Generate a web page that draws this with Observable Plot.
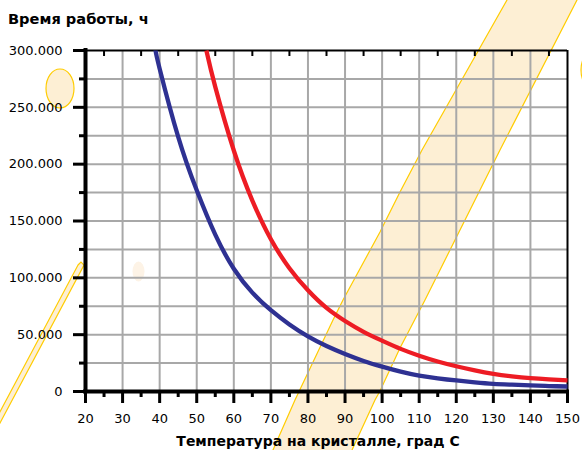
<!DOCTYPE html>
<html>
<head>
<meta charset="utf-8">
<script src="https://cdn.jsdelivr.net/npm/d3@7"></script>
<script src="https://cdn.jsdelivr.net/npm/@observablehq/plot@0.6"></script>
<style>
  body { margin: 0; background: white; }
  #wrap { position: relative; width: 582px; height: 450px; overflow: hidden; font-family: "DejaVu Sans", sans-serif; }
  #deco { position: absolute; left: 0; top: 0; z-index: 0; }
  #title { position: relative; z-index: 1; height: 36px; box-sizing: border-box; padding: 10px 0 0 8px; font-weight: bold; font-size: 14.6px; line-height: 18px; color: #000; }
  #chart { position: relative; z-index: 1; height: 396px; }
  #caption { position: relative; z-index: 1; height: 18px; line-height: 18px; width: 582px; box-sizing: border-box; padding-left: 54px; text-align: center; font-weight: bold; font-size: 14px; color: #000; }
</style>
</head>
<body>
<div id="wrap">
  <svg id="deco" width="582" height="450">
    <polygon points="512,-10 507,0 422,150 400,192 380,232 343,300 333,320 295,400 273,450 269,460 347,460 352,450 375,400 380,391 400,348 425,300 500,150 577,0 582,-10" fill="#fdefd4" stroke="#ffcc00" stroke-width="1.2"/>
    <polygon points="78,265 81,262 84,265 -25,470 -31,470" fill="#fdefd4" stroke="#ffcc00" stroke-width="1.2"/>
    <ellipse cx="60" cy="88.5" rx="14" ry="19.5" fill="#fdefd4" stroke="#ffcc00" stroke-width="1.2"/>
    <ellipse cx="138.5" cy="271.5" rx="6" ry="10" fill="#fdf3e6"/>
    <ellipse cx="597" cy="70" rx="16" ry="22" fill="#fdefd4" stroke="#ffcc00" stroke-width="1.2"/>
  </svg>
  <div id="title">Время работы, ч</div>
  <div id="chart"></div>
  <div id="caption">Температура на кристалле, град С</div>
</div>
<script>
// Blue curve (lower)
const blueTemp = [38.9, 40, 45, 50, 55, 60, 65, 70, 75, 80, 85, 90, 95, 100, 105, 110, 115, 120, 125, 130, 135, 140, 145, 150];
const blueHours = [300000, 284000, 224000, 177000, 138000, 108000, 87000, 71500, 59000, 48500, 40000, 33000, 26900, 21900, 17500, 14000, 11600, 9700, 8100, 6800, 6000, 5300, 4800, 4400];
// Red curve (upper)
const redTemp = [52.6, 55, 60, 65, 70, 75, 80, 85, 90, 95, 100, 105, 110, 115, 120, 125, 130, 135, 140, 145, 150];
const redHours = [300000, 268000, 212000, 168000, 134000, 108500, 89000, 73500, 62000, 52500, 44700, 37500, 31500, 26400, 22200, 18600, 15600, 13400, 11800, 10700, 9800];

const xMajorTicks = [20, 30, 40, 50, 60, 70, 80, 90, 100, 110, 120, 130, 140, 150];
const xMinorTicks = [25, 35, 45, 55, 65, 75, 85, 95, 105, 115, 125, 135, 145];
const xGrid = [30, 40, 50, 60, 70, 80, 90, 100, 110, 120, 130, 140];
const yMajorTicks = [0, 50000, 100000, 150000, 200000, 250000, 300000];
const yMinorTicks = [25000, 75000, 125000, 175000, 225000, 275000];
const yGrid = [25000, 50000, 75000, 100000, 125000, 150000, 175000, 200000, 225000, 250000, 275000];

const blueData = blueTemp.map((t, i) => ({t, h: blueHours[i]}));
const redData = redTemp.map((t, i) => ({t, h: redHours[i]}));
const fmt = v => d3.format(",")(v).replace(/,/g, ".");

const chart = Plot.plot({
  width: 582,
  height: 396,
  marginLeft: 85,
  marginRight: 15,
  marginTop: 14,
  marginBottom: 41,
  style: {fontFamily: "DejaVu Sans", fontSize: "13px", background: "transparent", color: "black"},
  x: {domain: [20, 150]},
  y: {domain: [0, 300000]},
  marks: [
    Plot.gridX(xGrid, {stroke: "#a8a8a8", strokeOpacity: 1, strokeWidth: 2}),
    Plot.gridY(yGrid, {stroke: "#a8a8a8", strokeOpacity: 1, strokeWidth: 2}),
    Plot.ruleY([300000], {stroke: "black", strokeWidth: 2}),
    Plot.ruleX([150], {stroke: "black", strokeWidth: 2}),
    Plot.line(blueData, {x: "t", y: "h", stroke: "#2e3192", strokeWidth: 4.3, curve: "natural", strokeLinecap: "butt"}),
    Plot.line(redData, {x: "t", y: "h", stroke: "#ed1c24", strokeWidth: 4.3, curve: "natural", strokeLinecap: "butt"}),
    Plot.ruleX([20], {stroke: "black", strokeWidth: 4, strokeLinecap: "square"}),
    Plot.ruleY([0], {stroke: "black", strokeWidth: 4, strokeLinecap: "square"}),
    Plot.axisX({ticks: xMajorTicks, tickSize: 12, tickPadding: 10, strokeWidth: 3, tickFormat: d => String(d), label: null, fontSize: 13}),
    Plot.axisX({ticks: xMinorTicks, tickSize: 6, strokeWidth: 3, text: null, label: null}),
    Plot.axisX({anchor: "bottom", frameAnchor: "top", ticks: xMinorTicks, tickSize: 6, strokeWidth: 2, text: null, label: null}),
    Plot.axisY({ticks: yMajorTicks, tickSize: 12, tickPadding: 11, strokeWidth: 3, tickFormat: fmt, label: null, fontSize: 13}),
    Plot.axisY({ticks: yMinorTicks, tickSize: 6, strokeWidth: 3, text: null, label: null})
  ]
});
document.getElementById("chart").appendChild(chart);
</script>
</body>
</html>
